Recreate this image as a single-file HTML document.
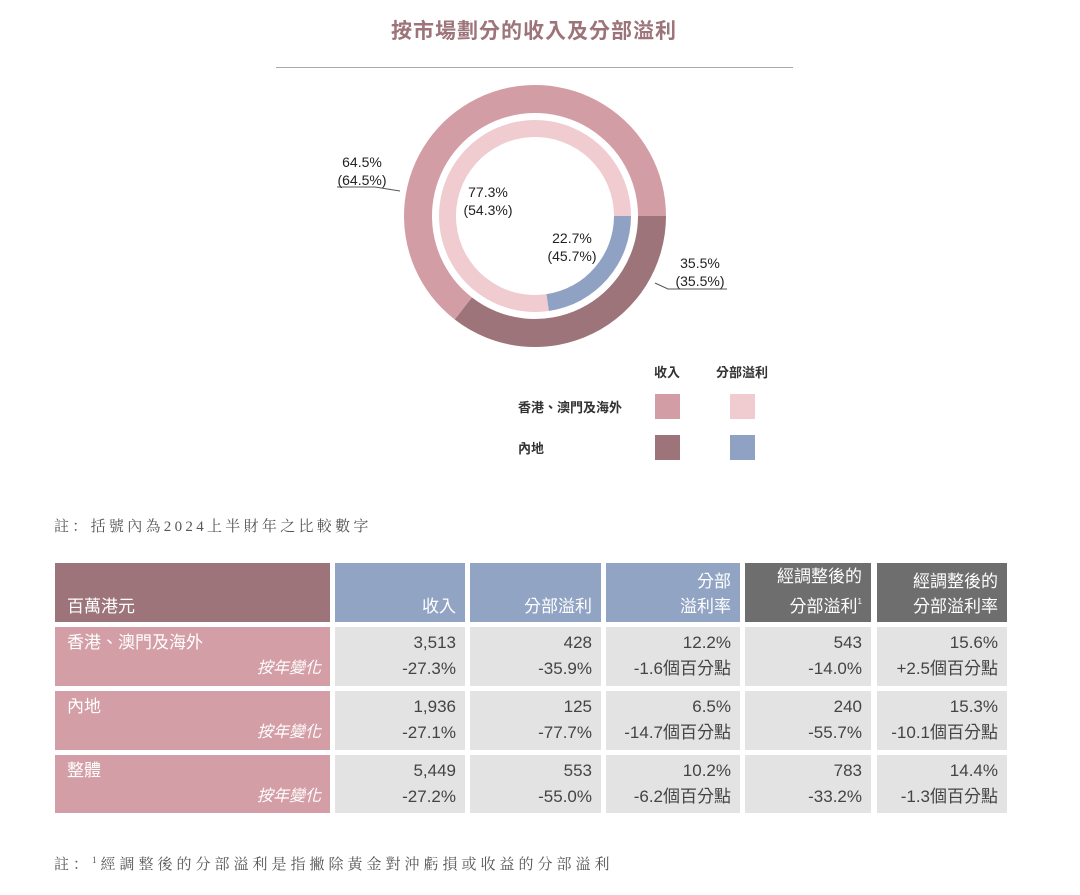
<!DOCTYPE html>
<html><head><meta charset="utf-8">
<style>
body{margin:0;width:1080px;height:895px;background:#fff;font-family:"Liberation Sans","Noto Sans CJK TC",sans-serif;position:relative;overflow:hidden}
.abs{position:absolute}
.c{position:absolute;box-sizing:border-box;padding:0 9px;font-size:17px;color:#444;text-align:right;line-height:26px;background:#e3e3e3;padding-top:3px}
.h{color:#fff;display:flex;flex-direction:column;justify-content:flex-end;padding-bottom:3px;align-items:flex-end;line-height:25px;padding-top:0}
.lab{background:#d39ea6;color:#fff;text-align:left;padding-left:12px}
.lab i{display:block;text-align:right;font-style:italic;font-size:16px}
.note{font-family:"Liberation Serif","Noto Serif CJK SC",serif;font-size:15px;color:#555}
</style></head><body>
<div class="abs" style="left:0;width:1068px;top:15px;text-align:center;font-size:21px;font-weight:bold;color:#9c7479;letter-spacing:1px">按市場劃分的收入及分部溢利</div>
<div class="abs" style="left:276px;top:67px;width:517px;height:1px;background:#aaa"></div>
<svg class="abs" style="left:0;top:0" width="1080" height="480">
<g id="rings"></g>
<polyline points="337,187 375,187 400,191" fill="none" stroke="#555" stroke-width="1"/>
<polyline points="655,283 668,289 727,289" fill="none" stroke="#555" stroke-width="1"/>
<g font-size="14" fill="#222" font-family="Liberation Sans,sans-serif" text-anchor="middle">
<text x="362" y="167">64.5%</text>
<text x="362" y="185">(64.5%)</text>
<text x="488" y="197">77.3%</text>
<text x="488" y="215">(54.3%)</text>
<text x="572" y="243">22.7%</text>
<text x="572" y="261">(45.7%)</text>
<text x="700" y="268">35.5%</text>
<text x="700" y="286">(35.5%)</text>
</g>
<g font-size="13" font-weight="bold" fill="#333" font-family="Liberation Sans,Noto Sans CJK TC,sans-serif">
<text x="667" y="377" text-anchor="middle">收入</text>
<text x="742" y="377" text-anchor="middle">分部溢利</text>
<text x="518" y="412">香港、澳門及海外</text>
<text x="518" y="453">內地</text>
</g>
<rect x="655" y="394" width="25" height="25" fill="#d39da5"/>
<rect x="730" y="394" width="25" height="25" fill="#f0ccd0"/>
<rect x="655" y="435" width="25" height="25" fill="#9c7479"/>
<rect x="730" y="435" width="25" height="25" fill="#8fa2c4"/>
</svg>
<div class="abs note" style="left:54px;top:515px;letter-spacing:3.3px">註：括號內為2024上半財年之比較數字</div>

<div>
<div class="c h" style="left:55px;top:563px;width:275px;height:59px;background:#9c7479;align-items:flex-start;padding-left:12px">百萬港元</div>
<div class="c h" style="left:335px;top:563px;width:130px;height:59px;background:#92a4c4">收入</div>
<div class="c h" style="left:470px;top:563px;width:131px;height:59px;background:#92a4c4">分部溢利</div>
<div class="c h" style="left:606px;top:563px;width:134px;height:59px;background:#92a4c4;text-align:right"><div>分部</div><div>溢利率</div></div>
<div class="c h" style="left:745px;top:563px;width:126px;height:59px;background:#6e6e6e;text-align:right"><div>經調整後的</div><div>分部溢利<span style="font-size:8px;vertical-align:8px">1</span></div></div>
<div class="c h" style="left:877px;top:563px;width:130px;height:59px;background:#6e6e6e;text-align:right"><div>經調整後的</div><div>分部溢利率</div></div>

<div class="c lab" style="left:55px;top:627px;width:275px;height:59px">香港、澳門及海外<i>按年變化</i></div>
<div class="c" style="left:335px;top:627px;width:130px;height:59px">3,513<br>-27.3%</div>
<div class="c" style="left:470px;top:627px;width:131px;height:59px">428<br>-35.9%</div>
<div class="c" style="left:606px;top:627px;width:134px;height:59px">12.2%<br>-1.6個百分點</div>
<div class="c" style="left:745px;top:627px;width:126px;height:59px">543<br>-14.0%</div>
<div class="c" style="left:877px;top:627px;width:130px;height:59px">15.6%<br>+2.5個百分點</div>

<div class="c lab" style="left:55px;top:691px;width:275px;height:59px">內地<i>按年變化</i></div>
<div class="c" style="left:335px;top:691px;width:130px;height:59px">1,936<br>-27.1%</div>
<div class="c" style="left:470px;top:691px;width:131px;height:59px">125<br>-77.7%</div>
<div class="c" style="left:606px;top:691px;width:134px;height:59px">6.5%<br>-14.7個百分點</div>
<div class="c" style="left:745px;top:691px;width:126px;height:59px">240<br>-55.7%</div>
<div class="c" style="left:877px;top:691px;width:130px;height:59px">15.3%<br>-10.1個百分點</div>

<div class="c lab" style="left:55px;top:755px;width:275px;height:58px">整體<i>按年變化</i></div>
<div class="c" style="left:335px;top:755px;width:130px;height:58px">5,449<br>-27.2%</div>
<div class="c" style="left:470px;top:755px;width:131px;height:58px">553<br>-55.0%</div>
<div class="c" style="left:606px;top:755px;width:134px;height:58px">10.2%<br>-6.2個百分點</div>
<div class="c" style="left:745px;top:755px;width:126px;height:58px">783<br>-33.2%</div>
<div class="c" style="left:877px;top:755px;width:130px;height:58px">14.4%<br>-1.3個百分點</div>
</div>

<div class="abs note" style="left:54px;top:853px;letter-spacing:4px">註：<sup style="font-size:9px">1</sup>經調整後的分部溢利是指撇除黃金對沖虧損或收益的分部溢利</div>
<script>
const segments = ["香港、澳門及海外","內地"];
const revenueShare = [64.5, 35.5];
const profitShare = [77.3, 22.7];
const revenueColors = ["#d39da5","#9c7479"];
const profitColors = ["#f0ccd0","#8fa2c4"];
const cx=535, cy=216;
function arc(r0,r1,a0,a1){
  const p=(r,a)=>[cx+r*Math.cos(a),cy+r*Math.sin(a)];
  const large=(a1-a0)>Math.PI?1:0;
  const [x0,y0]=p(r1,a0),[x1,y1]=p(r1,a1),[x2,y2]=p(r0,a1),[x3,y3]=p(r0,a0);
  return `M${x0},${y0}A${r1},${r1} 0 ${large} 1 ${x1},${y1}L${x2},${y2}A${r0},${r0} 0 ${large} 0 ${x3},${y3}Z`;
}
function ring(vals,cols,r0,r1,name){
  const g=document.getElementById('rings');
  const total=vals.reduce((a,b)=>a+b,0);
  let start=0;
  const order=[1,0];
  order.forEach(i=>{
    const sweep=vals[i]/total*2*Math.PI;
    const el=document.createElementNS('http://www.w3.org/2000/svg','path');
    el.setAttribute('d',arc(r0,r1,start,start+sweep));
    el.setAttribute('fill',cols[i]);
    
    
    g.appendChild(el);
    start+=sweep;
  });
}
ring(revenueShare,revenueColors,103,131,'revenue');
ring(profitShare,profitColors,79,96,'profit');
</script>
</body></html>
